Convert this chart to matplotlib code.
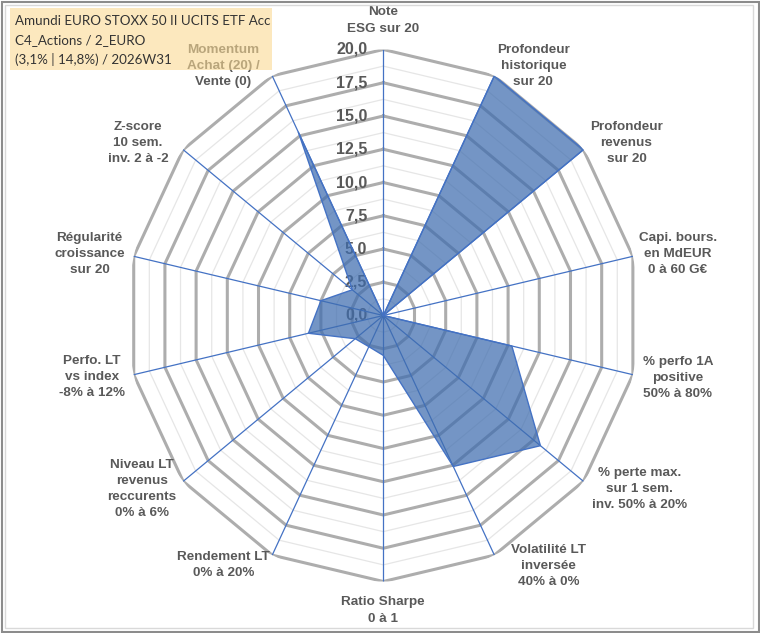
import numpy as np
import matplotlib
matplotlib.use("Agg")
import matplotlib.pyplot as plt
from matplotlib.patches import Rectangle
from matplotlib.transforms import ScaledTranslation

# ---------------- data ----------------
categories = [
    "Note\nESG sur 20",
    "Profondeur\nhistorique\nsur 20",
    "Profondeur\nrevenus\nsur 20",
    "Capi. bours.\nen MdEUR\n0 à 60 G€",
    "% perfo 1A\npositive\n50% à 80%",
    "% perte max.\nsur 1 sem.\ninv. 50% à 20%",
    "Volatilité LT\ninversée\n40% à 0%",
    "Ratio Sharpe\n0 à 1",
    "Rendement LT\n0% à 20%",
    "Niveau LT\nrevenus\nreccurents\n0% à 6%",
    "Perfo. LT\nvs index\n-8% à 12%",
    "Régularité\ncroissance\nsur 20",
    "Z-score\n10 sem.\ninv. 2 à -2",
    "Momentum\nAchat (20) /\nVente (0)",
]
values = [0.0, 20.0, 20.0, 0.0, 10.3, 15.7, 12.6, 3.0, 2.6, 2.8, 6.0, 5.0, 3.1, 15.3]
r_ticks = [0.0, 2.5, 5.0, 7.5, 10.0, 12.5, 15.0, 17.5, 20.0]
r_tick_labels = ["0,0", "2,5", "5,0", "7,5", "10,0", "12,5", "15,0", "17,5", "20,0"]
title_lines = ["Amundi EURO STOXX 50 II UCITS ETF Acc",
               "C4_Actions / 2_EURO",
               "(3,1% | 14,8%) / 2026W31"]

# ---------------- layout / style ----------------
W, H = 760, 633
label_offsets = [  # pixel offsets (dx, dy-down) of label centres from axis end
    (0, -29), (39, -10), (43, -7), (45, -2), (45, 3), (56, 8), (54, 11),
    (0, 29), (-49, 10), (-41, 8), (-42, 2), (-44, -2), (-45, -7), (-49, -10),
]
grey_text = "#595959"
axis_blue = "#4472C4"

fig = plt.figure(figsize=(W / 100, H / 100), dpi=100)
fig.patch.set_facecolor("white")

cx, cy, rx, ry = 383.3, 315.5, 256, 266
ax = fig.add_axes([(cx - rx) / W, (H - cy - ry) / H, 2 * rx / W, 2 * ry / H],
                  projection="polar")
ax.set_aspect("auto")
ax.set_theta_zero_location("N")
ax.set_theta_direction(-1)
ax.set_ylim(0, 20)
ax.set_xticks([])
ax.set_yticks([])
ax.grid(False)
ax.spines["polar"].set_visible(False)
ax.set_facecolor("none")

n = len(categories)
theta = np.arange(n) * 2 * np.pi / n
theta_c = np.append(theta, theta[0])

# polygon grid: minor (1.25) light, major (2.5) darker
for k in range(1, 17):
    r = k * 1.25
    if k % 2 == 0:
        ax.plot(theta_c, [r] * (n + 1), color="#ADADAD", lw=2.2, zorder=2,
                solid_joinstyle="miter")
    else:
        ax.plot(theta_c, [r] * (n + 1), color="#E6E6E6", lw=0.9, zorder=1,
                solid_joinstyle="miter")

# radial axes
for t in theta:
    ax.plot([t, t], [0, 20], color=axis_blue, lw=0.9, zorder=3)

# tick labels
off = ScaledTranslation(-16 / 100, 0, fig.dpi_scale_trans)
for r, lab in zip(r_ticks, r_tick_labels):
    ax.text(0, r, lab, transform=ax.transData + off, ha="right", va="center",
            fontsize=11.5, fontweight="bold", color=grey_text,
            family="Liberation Sans", zorder=2.5)

# data polygon
vals_c = np.append(values, values[0])
ax.fill(theta_c, vals_c, facecolor="#3F6DAF", alpha=0.72, zorder=4)
ax.plot(theta_c, vals_c, color=axis_blue, lw=1.0, zorder=5)

# category labels
for t, lab, (dx, dy) in zip(theta, categories, label_offsets):
    ax.annotate(lab, xy=(t, 20), xycoords="data", xytext=(dx, -dy),
                textcoords="offset pixels", ha="center", va="center",
                fontsize=9.7, fontweight="bold", color=grey_text,
                family="Liberation Sans", linespacing=1.45,
                annotation_clip=False, zorder=6)

# figure borders
fig.patches.append(Rectangle((1.5 / W, 1.5 / H), (W - 3) / W, (H - 3) / H,
                             transform=fig.transFigure, fill=False,
                             edgecolor="#8C8C8C", lw=1.5, zorder=20))
fig.patches.append(Rectangle((5 / W, 5 / H), (W - 12) / W, (H - 10) / H,
                             transform=fig.transFigure, fill=False,
                             edgecolor="#D9D9D9", lw=1.0, zorder=20))

# title box
fig.patches.append(Rectangle((10 / W, (H - 70) / H), 262 / W, 62 / H,
                             transform=fig.transFigure, facecolor=(250/255, 217/255, 147/255),
                             alpha=0.6, edgecolor="none", zorder=10))
for i, line in enumerate(title_lines):
    fig.text(15 / W, 1 - (21 + 19 * i) / H, line, ha="left", va="center",
             fontsize=9.6, color="#333333", family="Lato", zorder=11)

fig.savefig("out.png", dpi=100)
